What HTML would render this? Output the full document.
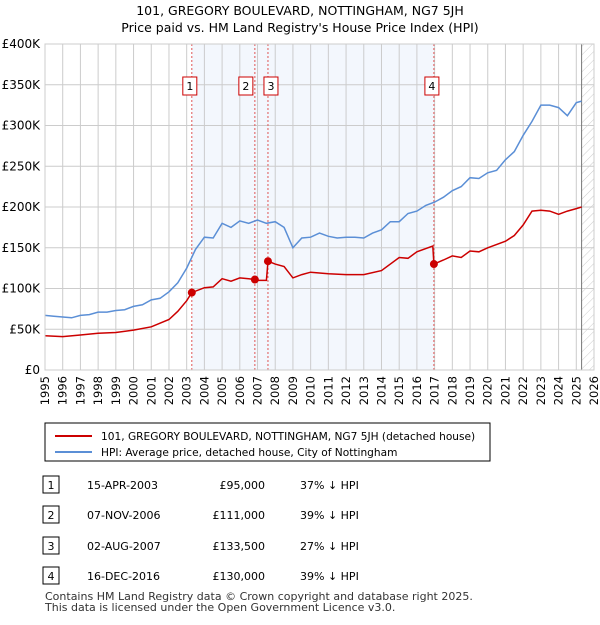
<!DOCTYPE html>
<html><head><meta charset="utf-8"><style>
body{margin:0;background:#fff;font-family:"Liberation Sans","DejaVu Sans",sans-serif;}
svg text{font-family:"DejaVu Sans","Liberation Sans",sans-serif;}
</style></head><body>
<svg id="c" width="600" height="620" viewBox="0 0 600 620">
<defs><pattern id="hatch" width="6" height="6" patternUnits="userSpaceOnUse" patternTransform="rotate(45)"><line x1="0" y1="0" x2="0" y2="6" stroke="#ccc" stroke-width="1"/></pattern></defs>
<text x="300" y="15" text-anchor="middle" font-size="12.5">101, GREGORY BOULEVARD, NOTTINGHAM, NG7 5JH</text>
<text x="300" y="32" text-anchor="middle" font-size="12.5">Price paid vs. HM Land Registry's House Price Index (HPI)</text>
<g id="plot"></g>
<g>
<rect x="45" y="423" width="445" height="38" fill="#fff" stroke="#000" stroke-width="1"/>
<line x1="55" y1="436" x2="92" y2="436" stroke="#cc0000" stroke-width="2"/>
<text x="101" y="440" font-size="10.6">101, GREGORY BOULEVARD, NOTTINGHAM, NG7 5JH (detached house)</text>
<line x1="55" y1="452" x2="92" y2="452" stroke="#5b8fd6" stroke-width="2"/>
<text x="101" y="456" font-size="10.6">HPI: Average price, detached house, City of Nottingham</text>
</g>
<g id="tbl" font-size="11"></g>
<text x="45" y="600" font-size="11" fill="#333">Contains HM Land Registry data © Crown copyright and database right 2025.</text>
<text x="45" y="611" font-size="11" fill="#333">This data is licensed under the Open Government Licence v3.0.</text>
</svg>
<script>
const hpiT=[1995,1995.5,1996,1996.5,1997,1997.5,1998,1998.5,1999,1999.5,2000,2000.5,2001,2001.5,2002,2002.5,2003,2003.5,2004,2004.5,2005,2005.5,2006,2006.5,2007,2007.5,2008,2008.5,2009,2009.5,2010,2010.5,2011,2011.5,2012,2012.5,2013,2013.5,2014,2014.5,2015,2015.5,2016,2016.5,2017,2017.5,2018,2018.5,2019,2019.5,2020,2020.5,2021,2021.5,2022,2022.5,2023,2023.5,2024,2024.5,2025,2025.3];
const hpiV=[67,66,65,64,67,68,71,71,73,74,78,80,86,88,96,107,125,148,163,162,180,175,183,180,184,180,182,175,150,162,163,168,164,162,163,163,162,168,172,182,182,192,195,202,206,212,220,225,236,235,242,245,258,268,288,305,325,325,322,312,328,330];
const ppT=[1995,1996,1997,1998,1999,2000,2001,2002,2002.5,2003,2003.29,2004,2004.5,2005,2005.5,2006,2006.5,2006.85,2007,2007.5,2007.59,2008,2008.5,2009,2009.5,2010,2011,2012,2013,2014,2015,2015.5,2016,2016.9,2016.96,2017.5,2018,2018.5,2019,2019.5,2020,2021,2021.5,2022,2022.5,2023,2023.5,2024,2024.5,2025,2025.3];
const ppV=[42,41,43,45,46,49,53,62,72,85,95,101,102,112,109,113,112,111,110,110,133.5,130,127,113,117,120,118,117,117,122,138,137,145,152,130,135,140,138,146,145,150,158,165,178,195,196,195,191,195,198,200];
const saleT=[2003.29,2006.85,2007.59,2016.96];
const saleV=[95,111,133.5,130];
const saleLabels=["1","2","3","4"];
const saleDates=["15-APR-2003","07-NOV-2006","02-AUG-2007","16-DEC-2016"];
const salePrices=["£95,000","£111,000","£133,500","£130,000"];
const saleHpi=["37% ↓ HPI","39% ↓ HPI","27% ↓ HPI","39% ↓ HPI"];
const yTicks=[0,50,100,150,200,250,300,350,400];
const yLabels=["£0","£50K","£100K","£150K","£200K","£250K","£300K","£350K","£400K"];
const years=[];for(let y=1995;y<=2026;y++)years.push(y);

const X0=45,X1=594,Y0=370,Y1=44;
const x=t=>X0+(t-1995)/(2026-1995)*(X1-X0);
const y=v=>Y0-v/400*(Y0-Y1);
const NS="http://www.w3.org/2000/svg";
const g=document.getElementById('plot');
function mk(tag,attrs,parent){const e=document.createElementNS(NS,tag);for(const k in attrs)e.setAttribute(k,attrs[k]);(parent||g).appendChild(e);return e;}
let e;
e=mk('rect',{x:x(saleT[0]),y:Y1,width:x(saleT[3])-x(saleT[0]),height:Y0-Y1,fill:'#eef3fc',opacity:0.7});


e=mk('rect',{x:x(2025.3),y:Y1,width:X1-x(2025.3),height:Y0-Y1,fill:'url(#hatch)'});


years.forEach(t=>{e=mk('line',{x1:x(t),x2:x(t),y1:Y1,y2:Y0,stroke:'#ccc','stroke-width':1});


e=mk('text',{x:0,y:0,'font-size':11.5,'text-anchor':'end',transform:`translate(${x(t)+4},${Y0+6}) rotate(-90)`});e.textContent=t;

});
yTicks.forEach((v,i)=>{e=mk('line',{x1:X0,x2:X1,y1:y(v),y2:y(v),stroke:'#ccc','stroke-width':1});


e=mk('text',{x:X0-5,y:y(v)+4,'font-size':12,'text-anchor':'end'});e.textContent=yLabels[i];

});
e=mk('line',{x1:x(2025.3),x2:x(2025.3),y1:Y1,y2:Y0,stroke:'#777','stroke-width':1});


saleT.forEach((t,i)=>{e=mk('line',{x1:x(t),x2:x(t),y1:Y1,y2:Y0,stroke:'#e05555','stroke-width':1,'stroke-dasharray':'2,2'});

});
const pth=(T,V)=>T.map((t,i)=>(i?'L':'M')+x(t).toFixed(1)+','+y(V[i]).toFixed(1)).join('');
e=mk('path',{d:pth(hpiT,hpiV),fill:'none',stroke:'#5b8fd6','stroke-width':1.5});


e=mk('path',{d:pth(ppT,ppV),fill:'none',stroke:'#cc0000','stroke-width':1.5});


saleT.forEach((t,i)=>{e=mk('circle',{cx:x(t),cy:y(saleV[i]),r:4,fill:'#cc0000'});


const bx=x(t)-(i==1?14:(i==2?2:7));
e=mk('rect',{x:bx-2,y:77,width:14,height:18,fill:'#fff',stroke:'#cc0000','stroke-width':1});


e=mk('text',{x:bx+5,y:90,'font-size':11,'text-anchor':'middle'});e.textContent=saleLabels[i];

});
e=mk('rect',{x:X0,y:Y1,width:X1-X0,height:Y0-Y1,fill:'none',stroke:'#ccc','stroke-width':1});


const tb=document.getElementById('tbl');
const rowsY=[488,518,549,579];
saleLabels.forEach((l,i)=>{const ry=rowsY[i];
e=mk('rect',{x:43,y:ry-12,width:16,height:17,fill:'#fff',stroke:'#000','stroke-width':1},tb);


e=mk('text',{x:51,y:ry+1,'text-anchor':'middle'},tb);e.textContent=l;


e=mk('text',{x:87,y:ry+1},tb);e.textContent=saleDates[i];


e=mk('text',{x:265,y:ry+1,'text-anchor':'end'},tb);e.textContent=salePrices[i];


e=mk('text',{x:300,y:ry+1},tb);e.textContent=saleHpi[i];

});
</script>
</body></html>
